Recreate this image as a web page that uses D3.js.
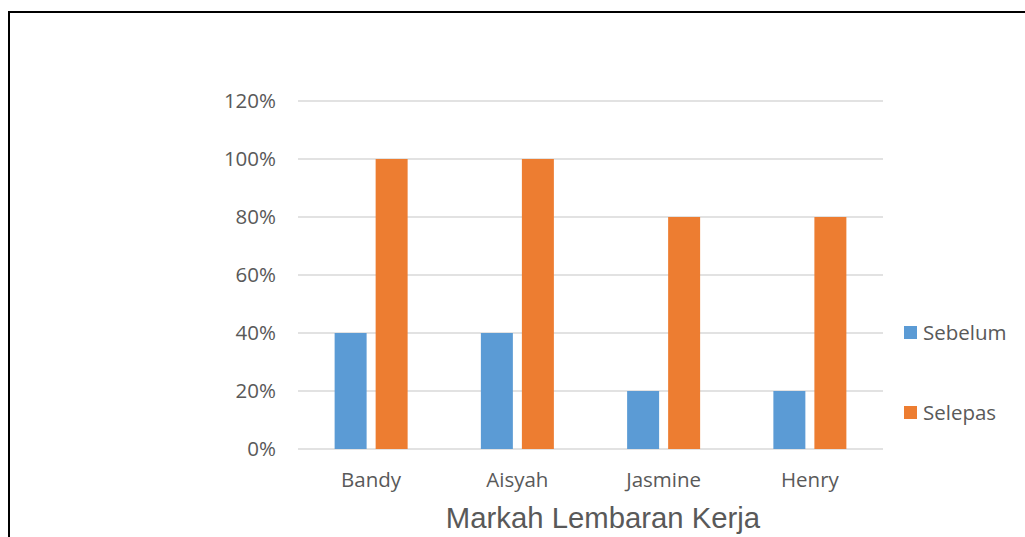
<!DOCTYPE html>
<html><head><meta charset="utf-8">
<script src="https://cdn.jsdelivr.net/npm/d3@7"></script>
<style>body{margin:0;background:#fff}svg{display:block}</style>
</head><body>
<svg id="c" width="1025" height="537"></svg>
<script>
const categories = ["Bandy", "Aisyah", "Jasmine", "Henry"];
const seriesNames = ["Sebelum", "Selepas"];
const sebelum = [0.4, 0.4, 0.2, 0.2];
const selepas = [1.0, 1.0, 0.8, 0.8];
const yTicks = [0, 0.2, 0.4, 0.6, 0.8, 1.0, 1.2];
const colors = ["#5b9bd5", "#ed7d31"];
const title = "Markah Lembaran Kerja";

const svg = d3.select("#c");
const font = "'Open Sans', sans-serif";
const fs = 20.5;

// frame
svg.append("path").attr("d", "M9,545 L9,12 L1030,12")
  .attr("fill", "none").attr("stroke", "#000").attr("stroke-width", 2);

const x = d3.scaleBand().domain(categories).range([298, 883]);
const y = d3.scaleLinear().domain([0, 1.2]).range([449, 101]);
const inner = d3.scaleBand().domain(seriesNames).range([x.bandwidth()/2 - 36.5, x.bandwidth()/2 + 36.5]).paddingInner(0.22);

// grid
svg.append("g").selectAll("line").data(yTicks).join("line")
  .attr("x1", 298).attr("x2", 883)
  .attr("y1", d => y(d)).attr("y2", d => y(d))
  .attr("stroke", "#d9d9d9").attr("stroke-width", 1.5);

// y labels
svg.append("g").selectAll("text").data(yTicks).join("text")
  .attr("x", 276).attr("y", d => y(d)).attr("dy", "0.36em")
  .attr("text-anchor", "end").attr("font-family", font).attr("font-size", fs)
  .attr("fill", "#595959").text(d => d3.format(".0%")(d));

const data = [sebelum, selepas];
seriesNames.forEach((s, si) => {
  svg.append("g").selectAll("rect").data(categories).join("rect")
    .attr("x", (c) => x(c) + inner(s))
    .attr("width", inner.bandwidth())
    .attr("y", (c, i) => y(data[si][i]))
    .attr("height", (c, i) => y(0) - y(data[si][i]))
    .attr("fill", colors[si]);
});

// x labels
svg.append("g").selectAll("text").data(categories).join("text")
  .attr("x", c => x(c) + x.bandwidth()/2).attr("y", 487)
  .attr("text-anchor", "middle").attr("font-family", font).attr("font-size", fs)
  .attr("fill", "#595959").text(c => c);

// title
svg.append("text").attr("x", 603).attr("y", 528).attr("text-anchor", "middle")
  .attr("font-family", "'Liberation Sans', Arial, sans-serif").attr("font-size", 29.3)
  .attr("fill", "#595959").text(title);

// legend
const ly = [333, 413];
seriesNames.forEach((s, i) => {
  svg.append("rect").attr("x", 904).attr("y", ly[i] - 7).attr("width", 13).attr("height", 13).attr("fill", colors[i]);
  svg.append("text").attr("x", 923).attr("y", ly[i]).attr("dy", "0.36em")
    .attr("font-family", font).attr("font-size", fs).attr("fill", "#595959").text(s);
});
</script>
</body></html>
